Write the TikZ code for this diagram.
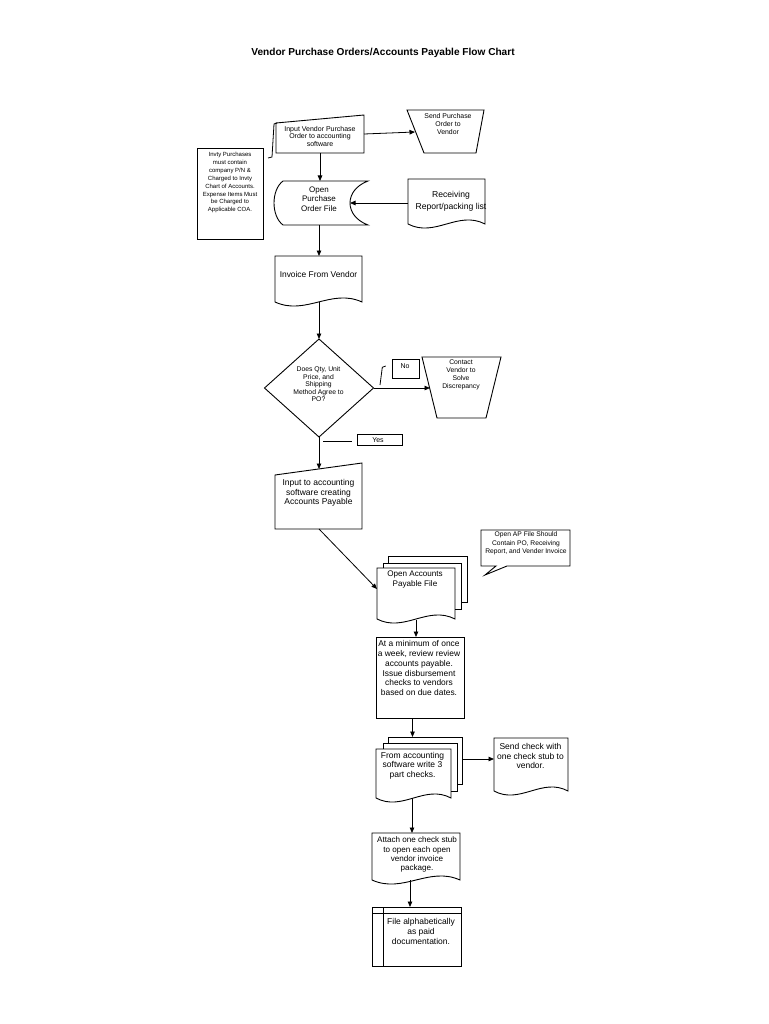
\documentclass[tikz,border=0pt]{standalone}
\usepackage{fontspec}
\setmainfont{Liberation Sans}
\usetikzlibrary{arrows.meta,calc}
\newcommand\fsz[2]{\fontsize{#1}{#2}\selectfont}
\begin{document}
\begin{tikzpicture}[x=1pt,y=-1pt,line join=miter,
  shp/.style={draw=black,line width=0.9pt},
  ln/.style={draw=black,line width=0.8pt},
  frame/.style={draw=none,rectangle,inner sep=0pt,outer sep=0pt},
  txt/.style={inner sep=0pt,outer sep=0pt,align=center},
  arr/.style={draw=black,line width=0.8pt,-{Triangle[length=5.5pt,width=4.5pt]}}]
\useasboundingbox[fill=white] (0,0) rectangle (768,1024);

% ---------- frames (anchors for connectors) ----------
\node[frame,minimum width=77pt,minimum height=43pt] (spo) at (445.5,131.5) {};
\node[frame,minimum width=88pt,minimum height=38pt] (ivp) at (320,134) {};
\node[frame,minimum width=66pt,minimum height=91pt] (invty) at (230,193.5) {};
\node[frame,minimum width=94pt,minimum height=44pt] (opo) at (321,203) {};
\node[frame,minimum width=77pt,minimum height=48pt] (rcv) at (446.5,203) {};
\node[frame,minimum width=86pt,minimum height=46pt] (inv) at (319,279) {};
\node[frame,minimum width=109pt,minimum height=98pt] (dq) at (319,388) {};
\node[frame,minimum width=27pt,minimum height=19pt] (no) at (405.5,368.5) {};
\node[frame,minimum width=79pt,minimum height=61pt] (con) at (461.5,387.5) {};
\node[frame,minimum width=45pt,minimum height=11pt] (yes) at (379.5,439.5) {};
\node[frame,minimum width=87pt,minimum height=66pt] (iap) at (319,496) {};
\node[frame,minimum width=78pt,minimum height=52pt] (oap) at (416,594) {};
\node[frame,minimum width=89pt,minimum height=36pt] (cal) at (525.5,548) {};
\node[frame,minimum width=88pt,minimum height=81pt] (rev) at (420,677.5) {};
\node[frame,minimum width=86pt,minimum height=61pt] (chk) at (419,767.5) {};
\node[frame,minimum width=74pt,minimum height=57pt] (snd) at (531,766.5) {};
\node[frame,minimum width=88pt,minimum height=47pt] (att) at (416,856.5) {};
\node[frame,minimum width=89pt,minimum height=59pt] (fil) at (416.5,936.5) {};

% ---------- shapes ----------
% manual input
\draw[shp] (276,153) -- (276,123) -- (364,115) -- (364,153) -- cycle;
% manual operation (send PO)
\draw[shp] (407,110) -- (484,110) -- (476,153) -- (424,153) -- cycle;
% note
\draw[shp] (197,148) rectangle (263,239);
% stored data
\draw[shp] (283,181) -- (368,181) .. controls (344,190) and (344,216) .. (368,225)
  -- (283,225) .. controls (271,216) and (271,190) .. (283,181) -- cycle;
% receiving report document
\draw[shp] (408,179) -- (485,179) -- (485,224) .. controls (458,210) and (435,238) .. (408,224) -- cycle;
% invoice document
\draw[shp] (275,256) -- (362,256) -- (362,302) .. controls (331.5,288) and (305.5,316) .. (275,302) -- cycle;
% decision
\draw[shp] (319,339) -- (373.5,388) -- (319,437) -- (264.5,388) -- cycle;
% No / Yes boxes
\draw[shp] (392,359) rectangle (419,378);
\draw[shp] (357,434) rectangle (402,445);
% contact trapezoid
\draw[shp] (422,357) -- (501,357) -- (486,418) -- (437,418) -- cycle;
% manual input (AP)
\draw[shp] (275,529) -- (275,475) -- (362,463) -- (362,529) -- cycle;
% multi-document (open AP)
\draw[shp] (388,563) -- (388,556) -- (467,556) -- (467,602) -- (461,602);
\draw[shp] (383,568) -- (383,563) -- (461,563) -- (461,609) -- (455,609);
\draw[shp] (377,568) -- (455,568) -- (455,619) .. controls (427.7,605) and (404.3,633) .. (377,619) -- cycle;
% callout
\draw[shp] (481,530) -- (570,530) -- (570,566) -- (507,566) -- (485,575) -- (496,566) -- (481,566) -- cycle;
% review process box
\draw[shp] (376,637) rectangle (464,718);
% multi-document (checks)
\draw[shp] (388,743) -- (388,737) -- (462,737) -- (462,784) -- (457,784);
\draw[shp] (383,749) -- (383,743) -- (457,743) -- (457,791) -- (451,791);
\draw[shp] (376,749) -- (451,749) -- (451,798) .. controls (424.75,784) and (402.25,812) .. (376,798) -- cycle;
% send check document
\draw[shp] (494,738) -- (568,738) -- (568,791) .. controls (542,777) and (520,805) .. (494,791) -- cycle;
% attach document
\draw[shp] (372,833) -- (460,833) -- (460,880) .. controls (429,866) and (403,894) .. (372,880) -- cycle;
% internal storage
\draw[shp] (372,907) rectangle (461,966);
\draw[shp] (372,913) -- (461,913);
\draw[shp] (383,907) -- (383,966);

% ---------- annotation marks ----------
\draw[ln] (277,123) -- (274,124) -- (272,157) -- (268,158);
\draw[ln] (380,385) -- (382.3,367.3) -- (385.7,366);
\draw[ln] (323,441.7) -- (351.7,441.7);

% ---------- connectors ----------
\draw[arr] (ivp.east) -- ($(spo.west)+(8,0.5)$);
\draw[arr] (ivp.south) -- (ivp.south |- opo.north);
\draw[arr] (rcv.west) -- ($(opo.east)+(-18,0)$);
\draw[arr] (opo.south -| inv.north) -- (inv.north);
\draw[arr] (inv.south) -- (dq.north);
\draw[arr] (dq.east) -- ($(con.west)+(8,0.5)$);
\draw[arr] (dq.south) -- ($(iap.north)+(0,6)$);
\draw[arr] (iap.south) -- ($(oap.west)+(0,-5)$);
\draw[arr] (oap.south) -- (oap.south |- rev.north);
\draw[arr] ($(rev.south)+(-7.5,0)$) -- ($(chk.north)+(-6.5,0)$);
\draw[arr] ($(chk.east)+(0,-8.5)$) -- ($(snd.west)+(0,-7.5)$);
\draw[arr] ($(chk.south)+(-7,0)$) -- ($(att.north)+(-4,0)$);
\draw[arr] ($(att.south)+(-6,0)$) -- ($(fil.north)+(-6.5,0)$);

% ---------- texts ----------
\node[txt,font=\fsz{10.1}{12}\bfseries] (title) at (383,53) {Vendor Purchase Orders/Accounts Payable Flow Chart};
\node[txt,font=\fsz{7}{7.2}] (ivpT) at (320,136.3) {Input Vendor Purchase\\Order to accounting\\software};
\node[txt,font=\fsz{6.9}{8.2}] (spoT) at (448,124) {Send Purchase\\Order to\\Vendor};
\node[txt,font=\fsz{6}{7.9}] (invtyT) at (230,182.6) {Invty Purchases\\must contain\\company P/N \&\\Charged to Invty\\Chart of Accounts.\\Expense Items Must\\be Charged to\\Applicable COA.};
\node[txt,font=\fsz{8}{9.5}] (opoT) at (319,199) {Open\\Purchase\\Order File};
\node[txt,font=\fsz{8.6}{12.5}] (rcvT) at (451,201.5) {Receiving\\Report/packing list};
\node[txt,font=\fsz{8.4}{10}] (invT) at (318.5,274) {Invoice From Vendor};
\node[txt,font=\fsz{6.8}{7.5}] (dqT) at (318.5,384.3) {Does Qty, Unit\\Price, and\\Shipping\\Method Agree to\\PO?};
\node[txt,font=\fsz{7}{8}] (noT) at (405,366) {No};
\node[txt,font=\fsz{6.8}{7.8}] (conT) at (461,375) {Contact\\Vendor to\\Solve\\Discrepancy};
\node[txt,font=\fsz{7}{8}] (yesT) at (378,440.5) {Yes};
\node[txt,font=\fsz{8.5}{9.5}] (iapT) at (318.5,493) {Input to accounting\\software creating\\Accounts Payable};
\node[txt,font=\fsz{8.1}{10}] (oapT) at (415,580) {Open Accounts\\Payable File};
\node[txt,font=\fsz{6.7}{8.5}] (calT) at (526,543.7) {Open AP File Should\\Contain PO, Receiving\\Report, and Vender Invoice};
\node[txt,font=\fsz{8.4}{9.7}] (revT) at (419,668.2) {At a minimum of once\\a week, review review\\accounts payable.\\Issue disbursement\\checks to vendors\\based on due dates.};
\node[txt,font=\fsz{8.5}{9.5}] (chkT) at (412.5,765.6) {From accounting\\software write 3\\part checks.};
\node[txt,font=\fsz{8.5}{9.8}] (sndT) at (530.5,756) {Send check with\\one check stub to\\vendor.};
\node[txt,font=\fsz{8.1}{9.2}] (attT) at (417,854.6) {Attach one check stub\\to open each open\\vendor invoice\\package.};
\node[txt,font=\fsz{8.5}{10}] (filT) at (421,931.7) {File alphabetically\\as paid\\documentation.};
\end{tikzpicture}
\end{document}
